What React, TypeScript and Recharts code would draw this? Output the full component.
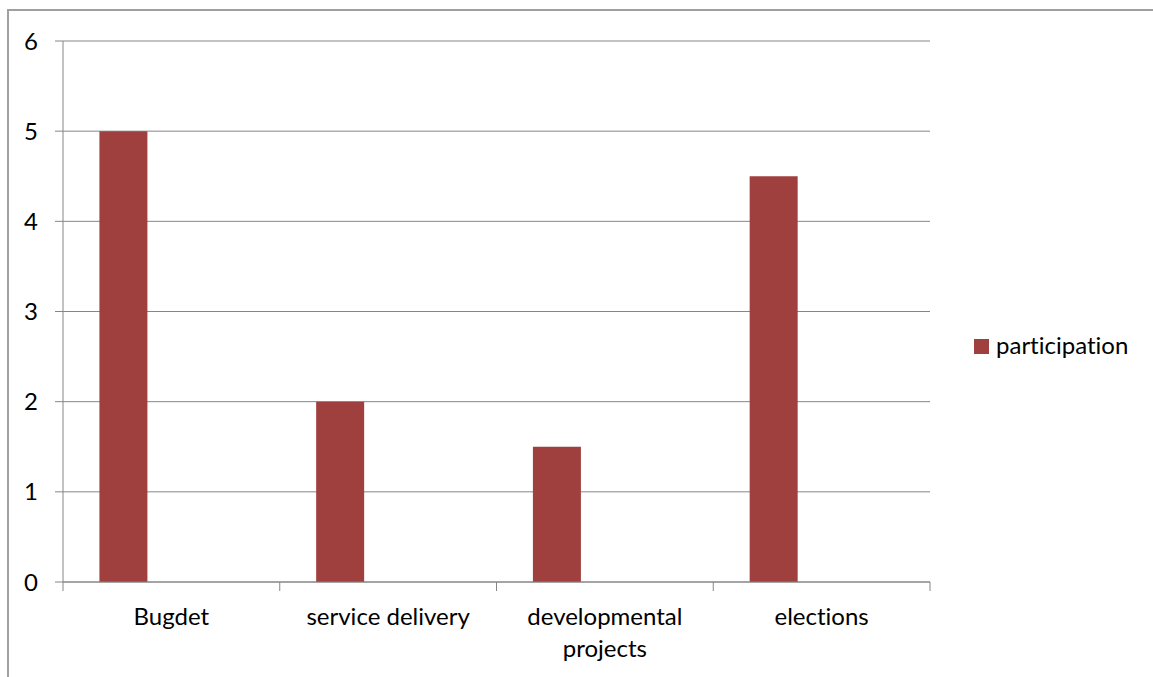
import React from 'react';
import { BarChart, Bar, XAxis, YAxis, CartesianGrid, Legend } from 'recharts';

// chart values
const categories = ['Bugdet', 'service delivery', 'developmental projects', 'elections'];
const participation = [5, 2, 1.5, 4.5];
const yTicks = [0, 1, 2, 3, 4, 5, 6];

// the two extra series are empty in the source (they only push the bar to the left)
const data = categories.map((name, i) => ({ name, participation: participation[i] }));

const W = 1153;
const H = 677;
const PLOT_LEFT = 63;
const PLOT_RIGHT = 930;
const PLOT_TOP = 41;
const PLOT_BOTTOM = 582;
const BAND = (PLOT_RIGHT - PLOT_LEFT) / categories.length;

const GRAY = '#868686';
const BAR = '#9f403e';
const FONT = 'Lato, "Open Sans", sans-serif';
const FS = 24;

// excel wraps the long label onto two lines
const wrap = (label: string) => {
  if (label.length <= 18) return [label];
  const i = label.lastIndexOf(' ');
  return [label.slice(0, i), label.slice(i + 1)];
};

const XTick = (props: any) => {
  const { x, y, payload } = props;
  const index = props.index ?? payload.index;
  const lines = wrap(String(payload.value));
  const left = x - BAND / 2;
  const right = x + BAND / 2;
  return (
    <g>
      <line x1={left} x2={left} y1={y} y2={y + 9} stroke={GRAY} />
      {index === categories.length - 1 && <line x1={right} x2={right} y1={y} y2={y + 9} stroke={GRAY} />}
      <text textAnchor="middle" fill="#000" fontSize={FS} fontFamily={FONT} style={{ fontVariantLigatures: 'none' }}>
        {lines.map((l, k) => (
          <tspan key={k} x={x} y={y + 43 + k * 32}>
            {l}
          </tspan>
        ))}
      </text>
    </g>
  );
};

const LegendBox = (props: any) => {
  const items = (props.payload || []).filter((p: any) => p.type !== 'none');
  return (
    <div>
      {items.map((p: any) => (
        <div
          key={p.value}
          style={{
            display: 'flex',
            alignItems: 'center',
            whiteSpace: 'nowrap',
            fontFamily: FONT,
            fontSize: FS,
            lineHeight: '24px',
            color: '#000',
            fontVariantLigatures: 'none',
          }}
        >
          <span style={{ display: 'inline-block', flexShrink: 0, width: 15, height: 15, marginTop: 3, background: BAR, marginRight: 7 }} />
          <span style={{ flexShrink: 0 }}>{p.value}</span>
        </div>
      ))}
    </div>
  );
};

export default function App() {
  return (
    <div style={{ position: 'absolute', left: 0, top: 0, width: W, height: H, overflow: 'hidden', background: '#fff' }}>
      {/* chart area border, cut off at right and bottom in the source */}
      <div style={{ position: 'absolute', left: 7, top: 9, width: 1400, height: 900, border: '2px solid #a0a0a0' }} />
      <div style={{ position: 'absolute', left: 0, top: 0 }}>
        <BarChart
          width={W}
          height={H}
          data={data}
          margin={{ top: PLOT_TOP, right: W - PLOT_RIGHT, left: 0, bottom: 0 }}
          barCategoryGap="16.8%"
          barGap={0}
        >
          <CartesianGrid vertical={false} stroke={GRAY} />
          <XAxis
            dataKey="name"
            height={H - PLOT_BOTTOM}
            interval={0}
            axisLine={{ stroke: GRAY }}
            tickLine={false}
            tickSize={0}
            tickMargin={0}
            tick={(p: any) => <XTick {...p} />}
          />
          <YAxis
            width={PLOT_LEFT}
            domain={[0, 6]}
            ticks={yTicks}
            interval={0}
            axisLine={{ stroke: GRAY }}
            tickLine={{ stroke: GRAY }}
            tickSize={8}
            tickMargin={17}
            tick={{ fill: '#000', fontSize: FS, fontFamily: FONT }}
          />
          <Legend
            layout="vertical"
            verticalAlign="top"
            align="left"
            content={(p: any) => <LegendBox {...p} />}
            wrapperStyle={{ position: 'absolute', left: 974, top: 333, width: 0, height: 0, overflow: 'visible' }}
          />
          <Bar dataKey="participation" name="participation" fill={BAR} isAnimationActive={false} />
          <Bar dataKey="series2" legendType="none" fill="#4f81bd" isAnimationActive={false} />
          <Bar dataKey="series3" legendType="none" fill="#9bbb59" isAnimationActive={false} />
        </BarChart>
      </div>
    </div>
  );
}
